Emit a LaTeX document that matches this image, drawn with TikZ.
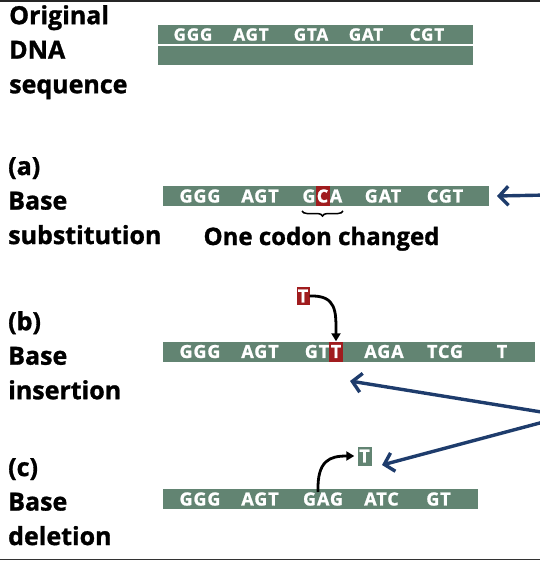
\documentclass[tikz,border=0pt]{standalone}
\usepackage{fontspec}
\setmainfont{Open Sans}[BoldFeatures={FakeBold=1.2}]
\usepackage{tikz}
\usetikzlibrary{positioning,arrows.meta,decorations.pathreplacing}
\definecolor{strand}{RGB}{98,132,114}
\definecolor{mutred}{RGB}{160,28,30}
\definecolor{pointblue}{RGB}{30,60,108}
\tikzset{
  heading/.style  = {font=\bfseries\fontsize{25}{34.5}\selectfont, align=left,
                     anchor=north west, inner sep=0pt},
  note/.style     = {font=\bfseries\fontsize{24}{24}\selectfont, inner sep=0pt},
  strandbar/.style = {fill=strand, inner sep=0pt, anchor=north west},
  codon/.style    = {text=white, inner sep=0pt,
                     font=\bfseries\fontsize{18}{18}\selectfont\addfontfeature{LetterSpace=5}},
  mutbox/.style   = {codon, fill=mutred, minimum width=14pt, minimum height=20pt},
  freebase/.style = {codon, minimum width=14pt, minimum height=19pt},
  pointer/.style  = {-{Straight Barb[length=9pt,width=19pt]}, line width=3.4pt,
                     draw=pointblue},
  move/.style     = {-{Triangle[length=8pt,width=9pt]}, line width=2.8pt}
}

\begin{document}
\begin{tikzpicture}[x=1pt,y=-1pt]
  \useasboundingbox (0,0) rectangle (540,562);
  \clip (0,0) rectangle (540,562);
  \draw[line width=2pt, black!85] (0,0.5) -- (540,0.5);
  \draw[line width=1.5pt, black!80] (0,559.5) -- (540,559.5);

  % row titles
  \node[heading] (torig) at (9,5)   {Original\\DNA\\sequence};
  \node[heading] (tsub)  at (8,157) {(a)\\Base\\substitution};
  \node[heading] (tins)  at (8,311) {(b)\\Base\\insertion};
  \node[heading] (tdel)  at (8,458) {(c)\\Base\\deletion};

  % original double strand
  \node[strandbar, minimum width=315pt, minimum height=19pt] (origA) at (158,25) {};
  \node[strandbar, minimum width=315pt, minimum height=19pt] (origB) at (158,46) {};
  \foreach \x/\c in {193/GGG,251/AGT,311/GTA,366/GAT,427/CGT}
    \node[codon, font=\bfseries\fontsize{17}{17}\selectfont\addfontfeature{LetterSpace=5}]
      (o\x) at (\x,34.5) {\c};

  % (a) substitution
  \node[strandbar, minimum width=326pt, minimum height=20pt] (subs) at (163,186) {};
  \foreach \x/\c in {200/GGG,260/AGT,309/G,336/A,383/GAT,445/CGT}
    \node[codon] (a\x) at (\x,196) {\c};
  \node[mutbox] (aC) at (322.5,196) {C};
  \draw[decorate, decoration={brace, mirror, amplitude=5pt}, line width=1.5pt]
    (302,211) -- (343,211);
  \node[note, anchor=base] (changed) at (321.5,245) {One codon changed};
  \coordinate (srcA) at (548,195);
  \draw[pointer] (srcA) -- (497,196);

  % (b) insertion
  \node[strandbar, minimum width=372pt, minimum height=20pt] (ins) at (163,341.5) {};
  \foreach \x/\c in {200/GGG,260/AGT,317/GT,384/AGA,445/TCG,502/T}
    \node[codon] (b\x) at (\x,351.5) {\c};
  \node[mutbox] (bT) at (336,351.5) {T};
  \node[mutbox, minimum width=13pt, minimum height=18pt] (newT) at (303,296) {T};
  \draw[move] (newT.east) .. controls (337,295) and (336,312) .. (bT.north);

  % (c) deletion
  \node[strandbar, minimum width=315pt, minimum height=20pt] (del) at (163,489) {};
  \foreach \x/\c in {200/GGG,260/AGT,323/GAG,381.5/ATC,438.5/GT}
    \node[codon] (c\x) at (\x,499) {\c};
  \node[freebase, fill=strand] (lostT) at (364.5,456) {T};
  \coordinate (cA) at (318,492);
  \draw[move] (cA) .. controls (317,460) and (330,456) .. ([xshift=-3pt]lostT.west);

  % pointers from the right
  \coordinate (src) at (566,416);
  \draw[pointer] (src) -- (350,381);
  \draw[pointer] (src) -- (382,465);
\end{tikzpicture}
\end{document}
